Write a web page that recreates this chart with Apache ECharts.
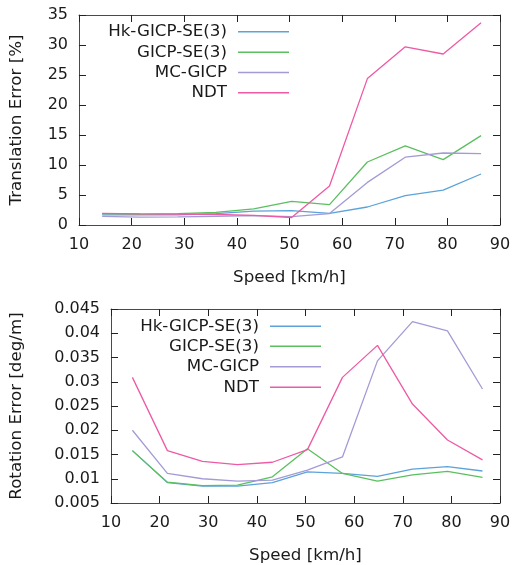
<!DOCTYPE html>
<html>
<head>
<meta charset="utf-8">
<script src="https://cdn.jsdelivr.net/npm/echarts@6/dist/echarts.min.js"></script>
<style>
html,body{margin:0;padding:0;background:#fff;}
#c{width:514px;height:565px;}
</style>
</head>
<body>
<div id="c"></div>
<script>
const speeds = [14.4, 21.6, 28.8, 36, 43.2, 50.4, 57.6, 64.8, 72, 79.2, 86.4];
const seriesNames = ['Hk-GICP-SE(3)', 'GICP-SE(3)', 'MC-GICP', 'NDT'];
const colors = ['#5ba3d9', '#5cbf5f', '#a39bd6', '#ee5aa5'];

// Translation error [%]
const transHk   = [1.7, 1.7, 1.7, 1.9, 2.3, 2.4, 1.95, 3.0, 4.9, 5.8, 8.5];
const transGicp = [1.9, 1.8, 1.9, 2.1, 2.7, 3.95, 3.4, 10.5, 13.2, 10.9, 14.9];
const transMc   = [1.45, 1.3, 1.35, 1.45, 1.55, 1.4, 1.9, 7.1, 11.3, 12.0, 11.9];
const transNdt  = [1.95, 1.85, 1.8, 1.75, 1.6, 1.25, 6.5, 24.4, 29.7, 28.5, 33.7];

// Rotation error [deg/m]
const rotHk   = [0.0158, 0.0092, 0.0085, 0.0085, 0.0092, 0.0114, 0.0111, 0.0105, 0.0120, 0.0125, 0.0116];
const rotGicp = [0.0158, 0.0093, 0.0086, 0.0087, 0.0104, 0.0162, 0.0111, 0.0095, 0.0108, 0.0115, 0.0103];
const rotMc   = [0.0200, 0.0111, 0.0100, 0.0095, 0.0097, 0.0118, 0.0145, 0.0343, 0.0424, 0.0405, 0.0285];
const rotNdt  = [0.0309, 0.0158, 0.0136, 0.0129, 0.0134, 0.0160, 0.0309, 0.0375, 0.0254, 0.0180, 0.0139];

const FONT = 'DejaVu Sans';
const TXT = '#1a1a1a';
const BORDER = '#4a4a4a';

function pairs(ys){ return speeds.map((x,i)=>[x, ys[i]]); }

function xAx(grid, main, name){
  return {
    type:'value', gridIndex:grid, min:10, max:90, interval:10,
    position: main ? 'bottom' : 'top',
    name: main ? name : '', nameLocation:'middle', nameGap:44,
    nameTextStyle:{fontFamily:FONT, fontSize:16.7, color:TXT},
    axisLine:{show:true, onZero:false, lineStyle:{color:BORDER, width:1}},
    axisTick:{show:true, inside:true, length:7, lineStyle:{color:'#222', width:1}},
    axisLabel:{show:main, margin:12, fontFamily:FONT, fontSize:16, color:TXT},
    splitLine:{show:false}
  };
}
function yAx(grid, main, name, min, max, interval, gap, fmt){
  return {
    type:'value', gridIndex:grid, min:min, max:max, interval:interval,
    position: main ? 'left' : 'right',
    name: main ? name : '', nameLocation:'middle', nameGap:gap,
    nameTextStyle:{fontFamily:FONT, fontSize:16.7, color:TXT},
    axisLine:{show:true, onZero:false, lineStyle:{color:BORDER, width:1}},
    axisTick:{show:true, inside:true, length:7, lineStyle:{color:'#222', width:1}},
    axisLabel:{show:main, margin:11, fontFamily:FONT, fontSize:16, color:TXT, formatter:fmt},
    splitLine:{show:false}
  };
}

function mkSeries(name, data, idx, xi, yi){
  return {
    name:name, id:name+'_'+xi, type:'line', xAxisIndex:xi, yAxisIndex:yi,
    data:pairs(data), symbol:'none', showSymbol:false,
    lineStyle:{color:colors[idx], width:1.3}, itemStyle:{color:colors[idx]},
    emphasis:{disabled:true}, animation:false
  };
}

const topRows = [32.3, 52.7, 73, 93.3];
const botRows = [326.7, 346.7, 367.3, 387.7];
const legends = [];
seriesNames.forEach((n,i)=>{
  [[topRows, 225],[botRows, 193]].forEach(([rows, right])=>{
    legends.push({
      data:[n], orient:'vertical', align:'right', right:right, top:rows[i]-9,
      icon:'rect', itemWidth:51, itemHeight:1.4, padding:0, selectedMode:false,
      textStyle:{fontFamily:FONT, fontSize:16.7, color:TXT, padding:[0,6,0,0]}
    });
  });
});

const option = {
  backgroundColor:'#fff',
  animation:false,
  legend: legends,
  grid:[
    {left:79, right:14, top:15, height:210},
    {left:111, right:14, top:309, height:194}
  ],
  xAxis:[
    xAx(0, true, 'Speed [km/h]'), xAx(0, false),
    xAx(1, true, 'Speed [km/h]'), xAx(1, false)
  ],
  yAxis:[
    yAx(0, true, 'Translation Error [%]', 0, 35, 5, 54, v=>String(v)),
    yAx(0, false, '', 0, 35, 5, 0),
    yAx(1, true, 'Rotation Error [deg/m]', 0.005, 0.045, 0.005, 86, v=>String(+v.toFixed(3))),
    yAx(1, false, '', 0.005, 0.045, 0.005, 0)
  ],
  series:[
    mkSeries(seriesNames[0], transHk, 0, 0, 0),
    mkSeries(seriesNames[1], transGicp, 1, 0, 0),
    mkSeries(seriesNames[2], transMc, 2, 0, 0),
    mkSeries(seriesNames[3], transNdt, 3, 0, 0),
    mkSeries(seriesNames[0], rotHk, 0, 2, 2),
    mkSeries(seriesNames[1], rotGicp, 1, 2, 2),
    mkSeries(seriesNames[2], rotMc, 2, 2, 2),
    mkSeries(seriesNames[3], rotNdt, 3, 2, 2)
  ]
};

const chart = echarts.init(document.getElementById('c'), null, {renderer:'canvas'});
chart.setOption(option);
</script>
</body>
</html>
